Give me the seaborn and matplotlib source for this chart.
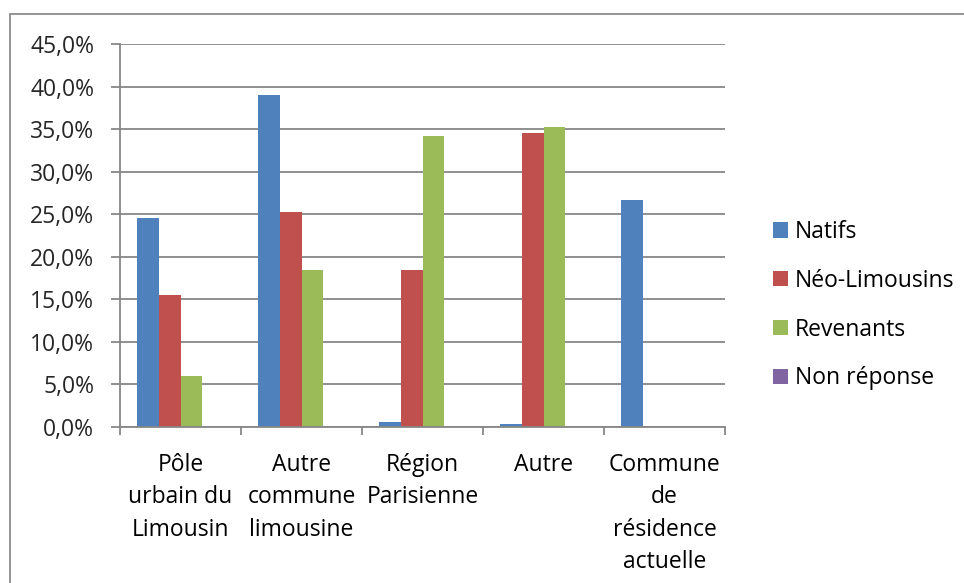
"""Origine géographique des enquêtés selon le profil (Natifs, Néo-Limousins, Revenants)."""

import matplotlib

matplotlib.use("Agg")

import matplotlib.pyplot as plt
import pandas as pd
import seaborn as sns
from matplotlib.patches import Rectangle
from matplotlib.ticker import FixedLocator, FuncFormatter

CATEGORIES = [
    "Pôle\nurbain du\nLimousin",
    "Autre\ncommune\nlimousine",
    "Région\nParisienne",
    "Autre",
    "Commune\nde\nrésidence\nactuelle",
]
SERIES = ["Natifs", "Néo-Limousins", "Revenants", "Non réponse"]

NATIFS = [24.5, 39.0, 0.6, 0.3, 26.7]
NEO_LIMOUSINS = [15.5, 25.3, 18.4, 34.5, 0.0]
REVENANTS = [6.0, 18.5, 34.2, 35.2, 0.0]
NON_REPONSE = [0.0, 0.0, 0.0, 0.0, 0.0]

COLORS = ["#4F81BD", "#C0504D", "#9BBB59", "#8064A2"]
GRID_COLOR = "#878787"
FONT_SIZE = 16.5


def build_frame() -> pd.DataFrame:
    """Met les séries au format long pour seaborn."""
    rows = []
    for name, values in zip(SERIES, [NATIFS, NEO_LIMOUSINS, REVENANTS, NON_REPONSE]):
        for category, value in zip(CATEGORIES, values):
            rows.append({"categorie": category, "profil": name, "part": value})
    return pd.DataFrame(rows)


def main() -> None:
    sns.set_theme(style="white")
    plt.rcParams["font.family"] = ["Open Sans", "DejaVu Sans"]

    df = build_frame()

    fig = plt.figure(figsize=(9.64, 5.83), dpi=100)
    # cadre gris autour du graphique (coupé à droite et en bas comme sur la capture)
    fig.patches.append(
        Rectangle(
            (10 / 964, -0.1), 1.2, 1 - 14 / 583 + 0.1,
            transform=fig.transFigure, fill=False,
            edgecolor="#8C8C8C", linewidth=1.3,
        )
    )
    ax = fig.add_axes([120 / 964, 1 - 427 / 583, 605 / 964, 383 / 583])

    sns.barplot(
        data=df,
        x="categorie",
        y="part",
        hue="profil",
        order=CATEGORIES,
        hue_order=SERIES,
        palette=COLORS,
        width=0.727,
        saturation=1,
        linewidth=0,
        ax=ax,
    )

    ax.set_ylim(0, 45)
    ax.set_xlim(-0.5, len(CATEGORIES) - 0.5)
    ax.yaxis.set_major_locator(FixedLocator([i * 5 for i in range(10)]))
    ax.yaxis.set_major_formatter(
        FuncFormatter(lambda v, _: f"{v:.1f}%".replace(".", ","))
    )
    ax.grid(axis="y", color=GRID_COLOR, linewidth=1.3)
    ax.set_axisbelow(True)

    for side in ["top", "right"]:
        ax.spines[side].set_visible(False)
    for side in ["left", "bottom"]:
        ax.spines[side].set_color(GRID_COLOR)
        ax.spines[side].set_linewidth(1.3)

    ax.set_xticks(range(len(CATEGORIES)))
    ax.set_xticklabels(CATEGORIES, linespacing=1.45, va="top")
    ax.xaxis.set_minor_locator(FixedLocator([i - 0.5 for i in range(len(CATEGORIES) + 1)]))
    ax.tick_params(axis="x", which="major", length=0, pad=19,
                   labelsize=FONT_SIZE, colors="black")
    ax.tick_params(axis="x", which="minor", bottom=True, length=6, width=1.3, color=GRID_COLOR)
    ax.tick_params(axis="y", which="major", left=True, length=6.5, width=1.3,
                   color=GRID_COLOR, pad=12, labelsize=FONT_SIZE)
    ax.set_xlabel("")
    ax.set_ylabel("")

    legend = ax.legend(
        loc="center left",
        bbox_to_anchor=(1.045, 0.318),
        frameon=False,
        fontsize=FONT_SIZE,
        handlelength=0.65,
        handleheight=0.65,
        handletextpad=0.3,
        labelspacing=1.08,
    )
    for text in legend.get_texts():
        text.set_color("black")

    fig.savefig("out.png", dpi=100)
    plt.close(fig)


if __name__ == "__main__":
    main()
